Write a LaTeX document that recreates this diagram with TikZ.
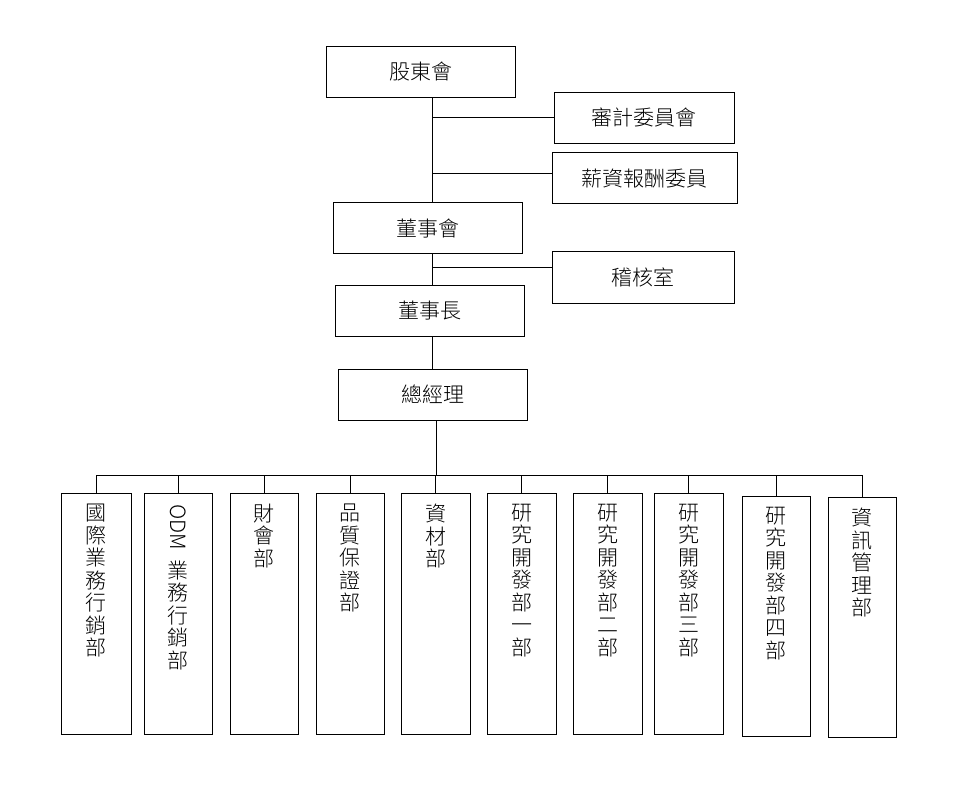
\documentclass[tikz,border=0pt]{standalone}
\usepackage{fontspec}
\setmainfont{Noto Sans CJK TC}[UprightFont=* Light]
\begin{document}
\begin{tikzpicture}[x=1pt, y=-1pt, line width=1pt,
  box/.style={draw, rectangle, inner sep=0, minimum width=189pt, minimum height=51pt, font=\fontsize{21}{24}\selectfont},
  dept/.style={draw, rectangle, inner sep=0, minimum width=69pt, minimum height=241pt},
  vtext/.style={anchor=north, inner sep=0, align=center, yshift=-11pt, font=\fontsize{21}{22.5}\selectfont}]
\useasboundingbox (0,0) rectangle (955,786);
\node[box] (sh) at (420.5,72){股東會};
\node[box, minimum width=180pt] (audit) at (644,118){審計委員會};
\node[box, minimum width=185pt] (pay) at (644.5,178.5){薪資報酬委員};
\node[box] (bd) at (427.5,228.5){董事會};
\node[box, minimum width=182pt] (aud2) at (643,277.5){稽核室};
\node[box] (ch) at (429.5,310.5){董事長};
\node[box] (gm) at (432.5,394.5){總經理};
\node[dept, minimum width=70pt] (d0) at (96,613.5){};
\node[dept, minimum width=68pt] (d1) at (178,613.5){};
\node[dept, minimum width=68pt] (d2) at (264,613.5){};
\node[dept, minimum width=68pt] (d3) at (350,613.5){};
\node[dept] (d4) at (435.5,613.5){};
\node[dept] (d5) at (521.5,613.5){};
\node[dept] (d6) at (607.5,613.5){};
\node[dept] (d7) at (688.5,613.5){};
\node[dept, minimum width=68pt, minimum height=240pt] (d8) at (776,616){};
\node[dept, minimum width=68pt, minimum height=240pt] (d9) at (862,617){};
\node[vtext] (d0t) at (d0.north){國\\際\\業\\務\\行\\銷\\部};
\node[vtext] (d1t) at (d1.north){\rotatebox{-90}{ODM}\\[10pt]業\\務\\行\\銷\\部};
\node[vtext] (d2t) at (d2.north){財\\會\\部};
\node[vtext] (d3t) at (d3.north){品\\質\\保\\證\\部};
\node[vtext] (d4t) at (d4.north){資\\材\\部};
\node[vtext] (d5t) at (d5.north){研\\究\\開\\發\\部\\一\\部};
\node[vtext] (d6t) at (d6.north){研\\究\\開\\發\\部\\二\\部};
\node[vtext] (d7t) at (d7.north){研\\究\\開\\發\\部\\三\\部};
\node[vtext] (d8t) at (d8.north){研\\究\\開\\發\\部\\四\\部};
\node[vtext] (d9t) at (d9.north){資\\訊\\管\\理\\部};
% trunk and branches
\coordinate (t0) at (432,118);
\coordinate (t1) at (432,174);
\coordinate (t2) at (432,267);
\coordinate (bus) at (436,475);
\draw[](sh.south -| t0) -- (bd.north -| t0);
\draw[](t0) -- (t0 -| audit.west);
\draw[](t1) -- (t1 -| pay.west);
\draw[](bd.south -| t2) -- (ch.north -| t2);
\draw[](t2) -- (t2 -| aud2.west);
\draw[](ch.south -| t2) -- (gm.north -| t2);
\draw[](gm.south -| bus) -- (bus);
\draw[](bus -| d0.north) -- (bus -| d9.north);
\draw[](bus -| d0.north) -- (d0.north);
\draw[](bus -| d1.north) -- (d1.north);
\draw[](bus -| d2.north) -- (d2.north);
\draw[](bus -| d3.north) -- (d3.north);
\draw[](bus -| d4.north) -- (d4.north);
\draw[](bus -| d5.north) -- (d5.north);
\draw[](bus -| d6.north) -- (d6.north);
\draw[](bus -| d7.north) -- (d7.north);
\draw[](bus -| d8.north) -- (d8.north);
\draw[](bus -| d9.north) -- (d9.north);
\end{tikzpicture}
\end{document}
